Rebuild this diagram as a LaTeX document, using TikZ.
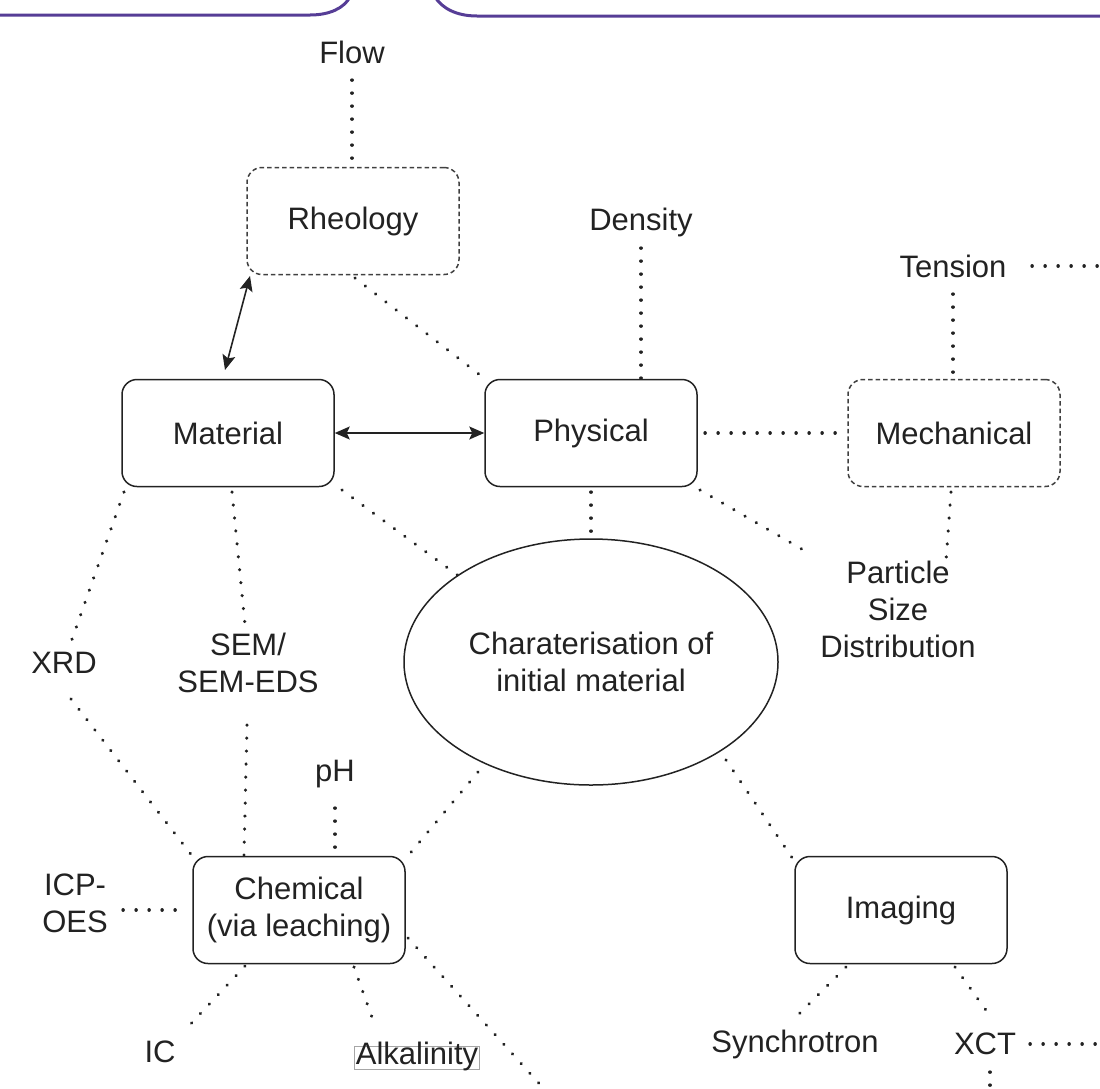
\documentclass[tikz,border=0pt]{standalone}
\usepackage{fontspec}
\setmainfont{Liberation Sans}
\usetikzlibrary{arrows.meta,shapes.geometric}
\definecolor{ink}{HTML}{222222}
\definecolor{purp}{HTML}{563D96}
\newcommand\lblfont{\fontsize{31}{37}\selectfont}
\begin{document}
\begin{tikzpicture}[x=1pt,y=-1pt,
  box/.style={draw=ink, line width=1.5pt, rounded corners=15pt, minimum width=212pt, minimum height=107pt, align=center, font=\lblfont, text=ink, inner sep=0pt},
  dbox/.style={box, draw=black!75, dash pattern=on 4.5pt off 3pt},
  lbl/.style={align=center, font=\lblfont, text=ink, inner sep=0pt},
  dotl/.style={draw=ink, line width=3.3pt, dash pattern=on 0.2pt off 12.8pt, line cap=round},
  arr/.style={draw=ink, line width=1.6pt, {Stealth[length=15pt,width=13pt,inset=3pt]}-{Stealth[length=15pt,width=13pt,inset=3pt]}},
  edge/.style={draw=purp, line width=3pt}
]
\useasboundingbox (0,0) rectangle (1100,1088);
% top purple frames
\coordinate (tl0) at (0,15);
\coordinate (tl1) at (350,-3);
\coordinate (tr0) at (435,-3);
\coordinate (tr1) at (1100,16);
\draw[edge] (tl0) -- (310,15) .. controls (330,15) and (344,8) .. (tl1);
\draw[edge] (tr0) .. controls (442,8) and (456,16) .. (477,16) -- (tr1);

% nodes
\node[lbl] (flow) at (352,52) {Flow};
\node[dbox] (rheo) at (353,221) {Rheology};
\node[lbl] (density) at (641,222) {Density};
\node[lbl] (tension) at (953,266) {Tension};
\node[box] (material) at (228,433) {Material};
\node[box] (physical) at (591,433) {Physical};
\node[dbox] (mech) at (954,433) {Mechanical};
\node[lbl] (psd) at (898,609) {Particle\\Size\\Distribution};
\node[draw=ink, line width=1.5pt, ellipse, minimum width=374pt, minimum height=246pt, inner sep=0pt, align=center, font=\lblfont, text=ink] (ell) at (591,662) {Charaterisation of\\initial material};
\node[lbl] (sem) at (248,663) {SEM/\\SEM-EDS};
\node[lbl] (xrd) at (64,663) {XRD};
\node[lbl] (ph) at (335,774) {pH};
\node[box] (chem) at (299,910) {Chemical\\(via leaching)};
\node[lbl] (icp) at (75,903) {ICP-\\OES};
\node[box] (imaging) at (901,910) {Imaging};
\node[lbl] (ic) at (160,1052) {IC};
\node[lbl, draw=black!35, line width=0.7pt, inner xsep=1pt, inner ysep=0pt, text height=18pt, text depth=5pt] (alk) at (417,1058) {Alkalinity};
\node[lbl] (sync) at (795,1044) {Synchrotron};
\node[lbl] (xct) at (985,1044) {XCT};

% free ends
\coordinate (c1a) at (352,80);   \coordinate (c1b) at (352,165);
\coordinate (c2a) at (355,278);  \coordinate (c2b) at (480,375);
\coordinate (c3a) at (641,248);  \coordinate (c3b) at (641,378);
\coordinate (c4a) at (1032,266); \coordinate (c4b) at (1100,266);
\coordinate (c5a) at (953,294);  \coordinate (c5b) at (953,378);
\coordinate (c6a) at (705,433);  \coordinate (c6b) at (845,433);
\coordinate (c7a) at (700,490);  \coordinate (c7b) at (812,555);
\coordinate (c8a) at (951,492);  \coordinate (c8b) at (945,575);
\coordinate (c9a) at (591,492);  \coordinate (c9b) at (591,538);
\coordinate (c10a) at (342,490); \coordinate (c10b) at (460,577);
\coordinate (c11a) at (232,492); \coordinate (c11b) at (245,625);
\coordinate (c12a) at (247,725); \coordinate (c12b) at (244,855);
\coordinate (c13a) at (124,492); \coordinate (c13b) at (70,645);
\coordinate (c14a) at (71,699);  \coordinate (c14b) at (193,857);
\coordinate (c15a) at (335,808); \coordinate (c15b) at (335,856);
\coordinate (c16a) at (478,772); \coordinate (c16b) at (407,857);
\coordinate (c17a) at (123,910); \coordinate (c17b) at (182,910);
\coordinate (c18a) at (245,966); \coordinate (c18b) at (185,1030);
\coordinate (c19a) at (354,967); \coordinate (c19b) at (373,1020);
\coordinate (c20a) at (408,938); \coordinate (c20b) at (545,1090);
\coordinate (c21a) at (726,760); \coordinate (c21b) at (795,862);
\coordinate (c22a) at (846,967); \coordinate (c22b) at (795,1018);
\coordinate (c23a) at (955,967); \coordinate (c23b) at (988,1013);
\coordinate (c24a) at (1030,1044); \coordinate (c24b) at (1100,1044);
\coordinate (c25a) at (990,1072); \coordinate (c25b) at (990,1090);

\foreach \i in {1,...,25} {\draw[dotl] (c\i a) -- (c\i b);}

% arrows
\draw[arr] (material.east) -- (physical.west);
\coordinate (ra) at (250,276);
\coordinate (rb) at (225,370);
\draw[arr] (ra) -- (rb);
\end{tikzpicture}
\end{document}
